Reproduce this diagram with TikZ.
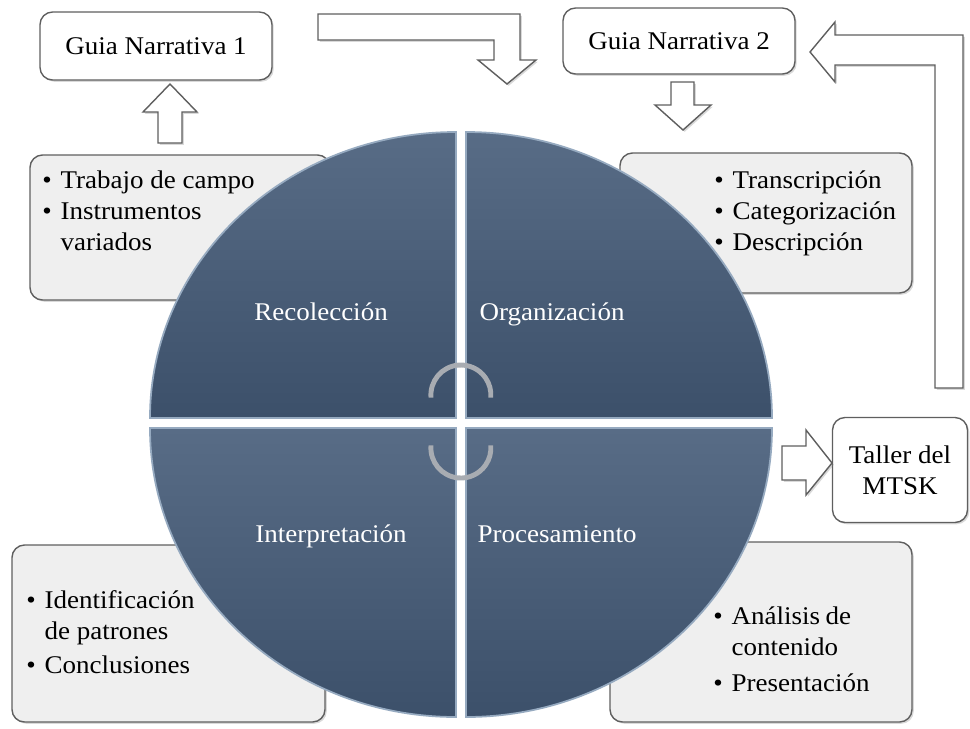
\documentclass[tikz,border=0pt]{standalone}
\usepackage{fontspec}
\setmainfont{Liberation Serif}[FakeStretch=1.06]
\usetikzlibrary{calc,fit,shadows}
\definecolor{quadtop}{RGB}{88,108,134}
\definecolor{quadbot}{RGB}{60,80,106}
\definecolor{quadrim}{RGB}{150,170,192}
\definecolor{boxfill}{RGB}{239,239,239}
\definecolor{boxline}{RGB}{95,95,95}
\definecolor{cyclegray}{RGB}{168,172,178}

\begin{document}
\begin{tikzpicture}[x=0.02cm,y=0.02cm,
    every node/.style={font=\fontsize{14.5}{17.5}\selectfont},
    infobox/.style={rectangle,draw=boxline,fill=boxfill,rounded corners=0.25cm,
                    line width=0.8pt,inner sep=0pt,
                    drop shadow={opacity=0.3,shadow xshift=1pt,shadow yshift=-1pt}},
    guidebox/.style={infobox,fill=white,align=center},
    bullets/.style={anchor=north west,inner sep=0pt},
    quadrant/.style={top color=quadtop,bottom color=quadbot,draw=quadrim,line width=1pt},
    quadlabel/.style={text=white,anchor=base},
    blockarrow/.style={fill=white,draw=boxline,line width=0.8pt,
                       drop shadow={opacity=0.3,shadow xshift=1pt,shadow yshift=-1pt}},
    cyclearc/.style={draw=cyclegray,line width=2.8pt}
  ]
    \useasboundingbox (0,0) rectangle (970,-728);

    % text boxes behind the circle
    \node[infobox,fit={(30,-155) (330,-300)}] (recbox) {};
    \node[infobox,fit={(620,-153) (912,-293)}] (orgbox) {};
    \node[infobox,fit={(12,-545) (325,-722)}] (intbox) {};
    \node[infobox,fit={(610,-542) (912,-722)}] (probox) {};

    \node[bullets] (rectext) at (42,-167) {\begin{tabular}{@{}l@{\hspace{5pt}}l@{}}
      \textbullet & Trabajo de campo\\ \textbullet & Instrumentos\\ & variados\end{tabular}};
    \node[bullets] (orgtext) at (714,-167) {\begin{tabular}{@{}l@{\hspace{5pt}}l@{}}
      \textbullet & Transcripción\\ \textbullet & Categorización\\ \textbullet & Descripción\end{tabular}};
    \node[bullets] (inttext) at (26,-587) {\begin{tabular}{@{}l@{\hspace{5pt}}l@{}}
      \textbullet & Identificación\\ & de patrones\\[2pt] \textbullet & Conclusiones\end{tabular}};
    \node[bullets] (protext) at (713,-603) {\begin{tabular}{@{}l@{\hspace{5pt}}l@{}}
      \textbullet & \makebox[68pt][s]{Análisis de}\\ & contenido\\[3pt] \textbullet & Presentación\end{tabular}};

    % the four quadrants
    \path[quadrant] (456,-418) -- (150,-418) arc[start angle=180,end angle=90,x radius=306,y radius=286] -- cycle;
    \path[quadrant] (466,-418) -- (466,-132) arc[start angle=90,end angle=0,x radius=306,y radius=286] -- cycle;
    \path[quadrant] (456,-428) -- (150,-428) arc[start angle=180,end angle=270,x radius=306,y radius=289] -- cycle;
    \path[quadrant] (466,-428) -- (772,-428) arc[start angle=0,end angle=-90,x radius=306,y radius=289] -- cycle;

    \node[quadlabel] (recol) at (321,-320) {Recolección};
    \node[quadlabel] (organ) at (552,-320) {Organización};
    \node[quadlabel] (inter) at (331,-542) {Interpretación};
    \node[quadlabel] (proce) at (557,-542) {Procesamiento};

    \draw[cyclearc] (431,-397.6) arc[start angle=185,end angle=-5,radius=30];
    \draw[cyclearc] (431,-445.4) arc[start angle=175,end angle=365,radius=30];

    % guides and workshop
    \node[guidebox,minimum width=4.64cm,minimum height=1.36cm] (guia1) at (156,-46) {Guia Narrativa 1};
    \node[guidebox,minimum width=4.64cm,minimum height=1.32cm] (guia2) at (679,-41) {Guia Narrativa 2};
    \node[guidebox,minimum width=2.7cm,minimum height=2.1cm] (taller) at (900,-470) {Taller del\\MTSK};

    % block arrows
    \draw[blockarrow] (158,-143) -- (182,-143) -- (182,-112) -- (197,-112) -- (170,-84)
      -- (143,-112) -- (158,-112) -- cycle;
    \draw[blockarrow] (318,-14) -- (520,-14) -- (520,-60) -- (536,-60) -- (507,-84)
      -- (478,-60) -- (494,-60) -- (494,-40) -- (318,-40) -- cycle;
    \draw[blockarrow] (671,-82) -- (694,-82) -- (694,-105) -- (711,-105) -- (683,-130)
      -- (655,-105) -- (671,-105) -- cycle;
    \draw[blockarrow] (935,-388) -- (963,-388) -- (963,-35) -- (835,-35) -- (835,-22)
      -- (810,-52) -- (835,-82) -- (835,-65) -- (935,-65) -- cycle;
    \draw[blockarrow] (782,-446) -- (806,-446) -- (806,-430) -- (832,-463) -- (806,-495)
      -- (806,-480) -- (782,-480) -- cycle;
  \end{tikzpicture}
\end{document}
